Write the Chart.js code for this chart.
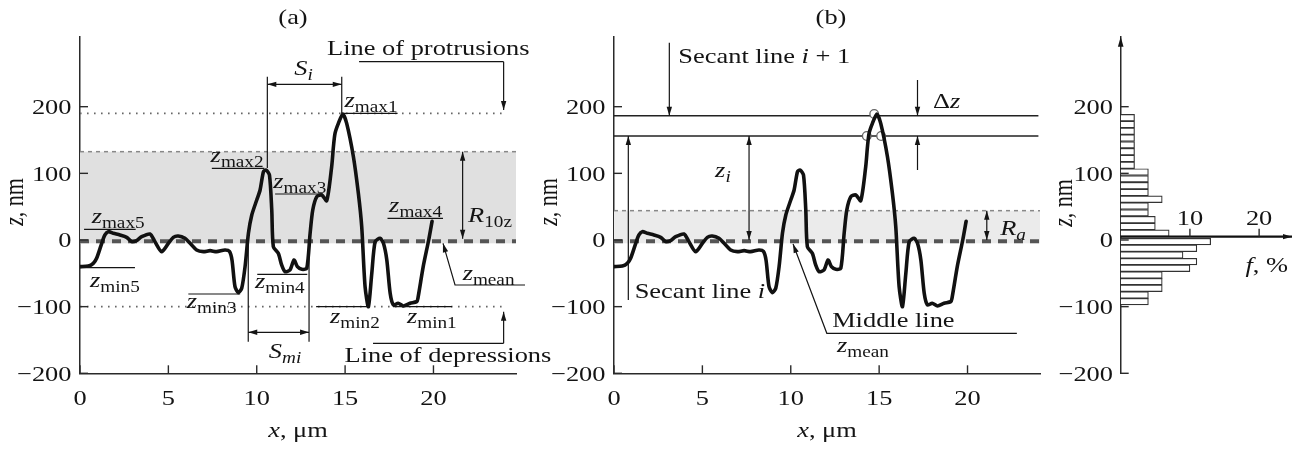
<!DOCTYPE html>
<html>
<head>
<meta charset="utf-8">
<script src="https://cdn.jsdelivr.net/npm/chart.js@4/dist/chart.umd.min.js"></script>
<style>
html, body { margin: 0; padding: 0; background: #fff; }
#wrap { position: relative; width: 1301px; height: 449px; }
#wrap canvas { position: absolute; left: 0; top: 0; }
</style>
</head>
<body>
<div id="wrap">
  <canvas id="chartA" width="1301" height="449"></canvas>
  <canvas id="chartB" width="1301" height="449"></canvas>
  <canvas id="chartC" width="1301" height="449"></canvas>
</div>
<script>
// surface profile z(x) (same trace in panels a and b)
const profileX = [0, 0.47, 0.75, 0.94, 1.23, 1.41, 1.6, 1.89, 2.26, 2.64, 2.92, 3.2, 3.49, 3.96, 4.24, 4.62, 5.0, 5.28, 5.56, 5.94,
  6.23, 6.6, 6.98, 7.36, 7.73, 8.2, 8.45, 8.6, 8.77, 8.96, 9.15, 9.34, 9.53, 9.72, 10.0, 10.19, 10.38, 10.53, 10.72, 10.85,
  10.94, 11.22, 11.41, 11.6, 11.88, 12.11, 12.3, 12.55, 12.83, 13.02, 13.17, 13.4, 13.68, 13.96, 14.24, 14.34, 14.43, 14.62, 14.87, 15.09,
  15.47, 15.75, 15.94, 16.13, 16.32, 16.51, 16.7, 16.98, 17.17, 17.36, 17.55, 17.73, 18.0, 18.3, 18.67, 19.05, 19.12, 19.42, 19.73, 19.92];
const profileZ = [-40, -39, -35, -27.5, -5, 7.5, 12.5, 10, 7.5, 4, -2.5, -1, 5, 9, -2.5, -17.5, -5, 4, 6, 2.5,
  -5, -15, -17.5, -16, -17.5, -15, -17, -30, -70, -79, -72.5, -40, 10, 37.5, 60, 75, 102.5, 105, 97.5, 45,
  -10, -20, -37.5, -47.5, -45, -30, -40, -44, -42.5, 10, 45, 65, 67.5, 59, 110, 140, 160, 175, 189, 175,
  125, 70, 20, -70, -100, -50, -2.5, 2.5, -5, -30, -80, -97.5, -95, -99, -95, -92.5, -87.5, -40, 0, 28];

// height histogram (panel c): bin centre z, nm and share f, %
const binZ = [183.5, 173.3, 163.1, 152.9, 142.7, 132.5, 122.3, 112.1, 101.9, 91.7, 81.5, 71.3, 61.1, 50.9, 40.7, 30.5, 20.3, 10.1,
  -2.5, -12.5, -22.5, -32.5, -42.5, -52.5, -62.5, -72.5, -82.5, -92.5];
const binF = [2, 2, 2, 2, 2, 2, 2, 2, 4, 4, 4, 4, 6, 4, 4, 5, 5, 7,
  13, 11, 9, 11, 10, 6, 6, 6, 4, 4];

// tick values
const zTicks = [-200, -100, 0, 100, 200];
const xTicks = [0, 5, 10, 15, 20];
const fTicks = [10, 20];

// characteristic levels, nm
const protrusionLevel = 190;
const depressionLevel = -100;
const meanLevel = -2;
const r10zTop = 132.5;
const raTop = 44;
const secantUpper = 186.5;
const secantLower = 156;
const fAxisLevel = 5;
// crossing points of the peak with the secant lines (panel b)
const crossX = [14.72, 14.3, 15.11];
const crossZ = [189, 156, 156];

// axis ranges
const Z_MIN = -200, Z_MAX = 305;
const A_XMAX = 24.67, B_XMAX = 24.1, F_MAX = 24.75;

// layout
const W = 1301, H = 449;
const frameA = { left: 80, right: 516, top: 36.7, bottom: 373.3 };
const frameB = { left: 614, right: 1040, top: 36.7, bottom: 373.3 };
const frameC = { left: 1120.7, right: 1292, top: 36.7, bottom: 373.3 };

const INK = '#141414';
const AXIS = '#2a2a2a';
const SERIF = '"Liberation Serif", "Times New Roman", serif';
const SX = 1.2;      // the scanned figure is stretched horizontally
const FS = 22, SUB = 16;

// ---------- text helpers ----------
function fontFor(style) {
  const sub = style[0] === 's';
  return (style.indexOf('i') >= 0 ? 'italic ' : '') + (sub ? SUB : FS) + 'px ' + SERIF;
}
function richWidth(ctx, parts) {
  let w = 0;
  parts.forEach(([t, s]) => { ctx.font = fontFor(s); w += ctx.measureText(t).width; });
  return w;
}
function drawRich(ctx, parts, x, y, align, sx) {
  sx = sx || SX;
  const w = richWidth(ctx, parts) * sx;
  let cx = align === 'center' ? x - w / 2 : align === 'right' ? x - w : x;
  ctx.save();
  ctx.fillStyle = INK;
  ctx.textAlign = 'left';
  ctx.textBaseline = 'alphabetic';
  parts.forEach(([t, s]) => {
    ctx.font = fontFor(s);
    const tw = ctx.measureText(t).width;
    ctx.save();
    ctx.translate(cx, y + (s[0] === 's' ? 5 : 0));
    ctx.scale(sx, 1);
    ctx.fillText(t, 0, 0);
    ctx.restore();
    cx += tw * sx;
  });
  ctx.restore();
}
function drawRotated(ctx, parts, cx, cy) {
  ctx.save();
  ctx.translate(cx, cy);
  ctx.rotate(-Math.PI / 2);
  ctx.scale(1, SX);
  drawRich(ctx, parts, 0, 5, 'center', 1);
  ctx.restore();
}
const fmt = v => (v < 0 ? '\u2212' + (-v) : String(v));

// ---------- drawing kit bound to a chart's scales ----------
function kit(chart) {
  const ctx = chart.ctx, sx = chart.scales.x, sy = chart.scales.y;
  const X = v => sx.getPixelForValue(v), Y = v => sy.getPixelForValue(v);
  function head(x1, y1, x2, y2) {
    const a = Math.atan2(y2 - y1, x2 - x1), L = 9, hw = 2.7;
    ctx.beginPath();
    ctx.moveTo(x2, y2);
    ctx.lineTo(x2 - L * Math.cos(a) + hw * Math.sin(a), y2 - L * Math.sin(a) - hw * Math.cos(a));
    ctx.lineTo(x2 - L * Math.cos(a) - hw * Math.sin(a), y2 - L * Math.sin(a) + hw * Math.cos(a));
    ctx.closePath();
    ctx.fill();
  }
  const k = {
    ctx, X, Y, area: chart.chartArea,
    line(x1, z1, x2, z2, w, color, dash) {
      ctx.save();
      ctx.strokeStyle = color || INK;
      ctx.lineWidth = w || 1.2;
      ctx.setLineDash(dash || []);
      ctx.beginPath();
      ctx.moveTo(X(x1), Y(z1));
      ctx.lineTo(X(x2), Y(z2));
      ctx.stroke();
      ctx.restore();
    },
    path(pts) {
      ctx.save();
      ctx.strokeStyle = INK; ctx.lineWidth = 1.2;
      ctx.beginPath();
      pts.forEach(([x, z], i) => (i ? ctx.lineTo(X(x), Y(z)) : ctx.moveTo(X(x), Y(z))));
      ctx.stroke();
      ctx.restore();
    },
    arrow(x1, z1, x2, z2, both) {
      k.line(x1, z1, x2, z2);
      ctx.save(); ctx.fillStyle = INK;
      head(X(x1), Y(z1), X(x2), Y(z2));
      if (both) head(X(x2), Y(z2), X(x1), Y(z1));
      ctx.restore();
    },
    headAt(x1, z1, x2, z2) {
      ctx.save(); ctx.fillStyle = INK; head(X(x1), Y(z1), X(x2), Y(z2)); ctx.restore();
    },
    band(x1, x2, z1, z2, color) {
      ctx.save(); ctx.fillStyle = color;
      ctx.fillRect(X(x1), Y(z2), X(x2) - X(x1), Y(z1) - Y(z2));
      ctx.restore();
    },
    text(parts, x, z, align) { drawRich(ctx, parts, X(x), Y(z), align || 'left'); },
    label(parts, x, z, ux1, ux2, uz) { k.text(parts, x, z); k.line(ux1, uz, ux2, uz); }
  };
  return k;
}

// inward ticks + labels for the profile panels
function profileAxes(k) {
  const { ctx, X, Y, area } = k;
  ctx.save();
  ctx.strokeStyle = AXIS; ctx.lineWidth = 1.4;
  zTicks.forEach(v => { ctx.beginPath(); ctx.moveTo(area.left, Y(v)); ctx.lineTo(area.left + 8, Y(v)); ctx.stroke(); });
  xTicks.forEach(v => { ctx.beginPath(); ctx.moveTo(X(v), area.bottom); ctx.lineTo(X(v), area.bottom - 8); ctx.stroke(); });
  ctx.restore();
  zTicks.forEach(v => drawRich(ctx, [[fmt(v), 'r']], area.left - 8.5, Y(v) + 7.5, 'right'));
  xTicks.forEach(v => drawRich(ctx, [[fmt(v), 'r']], X(v), area.bottom + 32, 'center'));
  drawRich(ctx, [['x', 'i'], [', \u03bcm', 'r']], (area.left + area.right) / 2, 437, 'center');
  drawRotated(ctx, [['z', 'i'], [', nm', 'r']], area.left - 63, 202);
}

function axisOpts(min, max, show) {
  return {
    type: 'linear', min, max, display: show !== false, offset: false,
    ticks: { display: false },
    grid: { drawOnChartArea: false, drawTicks: false, offset: false },
    border: { color: AXIS, width: 1.5 },
    afterFit(s) { if (s.isHorizontal()) s.height = 0; else s.width = 0; }
  };
}
function baseOptions(frame, xMax, showX) {
  return {
    responsive: false, animation: false, events: [],
    layout: { padding: { left: frame.left, right: W - frame.right, top: frame.top, bottom: H - frame.bottom } },
    plugins: { legend: { display: false }, tooltip: { enabled: false } },
    scales: { x: axisOpts(0, xMax, showX), y: axisOpts(Z_MIN, Z_MAX) }
  };
}
const profile = profileX.map((x, i) => ({ x, y: profileZ[i] }));
const profileSet = {
  data: profile, showLine: true, borderColor: '#111', borderWidth: 3.6, pointRadius: 0,
  tension: 0.25, borderCapStyle: 'round', borderJoinStyle: 'round'
};

// ---------- panel (a) ----------
const decorA = {
  id: 'decorA',
  beforeDatasetsDraw(chart) {
    const k = kit(chart);
    k.band(0, A_XMAX, -5, r10zTop, '#e0e0e0');
    k.line(0, r10zTop, A_XMAX, r10zTop, 1.5, '#888', [4, 4]);
    k.line(0, protrusionLevel, 23.97, protrusionLevel, 1.6, '#666', [1.6, 5.4]);
    k.line(0, depressionLevel, 23.97, depressionLevel, 1.6, '#666', [1.6, 5.4]);
    k.line(0, meanLevel, A_XMAX, meanLevel, 4, '#555', [9, 7]);
  },
  afterDraw(chart) {
    const k = kit(chart);
    profileAxes(k);
    drawRich(k.ctx, [['(a)', 'r']], (k.area.left + k.area.right) / 2 - 5, 24, 'center');
    // line of protrusions / depressions
    k.text([['Line of protrusions', 'r']], 13.98, 277.5);
    k.line(15.79, 267.5, 23.97, 267.5);
    k.arrow(23.97, 267.5, 23.97, 195);
    k.text([['Line of depressions', 'r']], 14.97, -182.5);
    k.line(16.58, -155, 23.97, -155);
    k.arrow(23.97, -155, 23.97, -107.5);
    // S_i
    k.line(10.6, 245, 10.6, 108);
    k.line(14.81, 245, 14.81, 190);
    k.arrow(10.6, 233.5, 14.81, 233.5, true);
    k.text([['S', 'i'], ['i', 'si']], 12.65, 247, 'center');
    // S_mi
    k.line(9.52, 0, 9.52, -152.5);
    k.line(12.96, 0, 12.96, -152.5);
    k.arrow(9.52, -138.5, 12.96, -138.5, true);
    k.text([['S', 'i'], ['mi', 'si']], 11.6, -177, 'center');
    // R10z
    k.arrow(21.65, r10zTop, 21.65, 2, true);
    k.text([['R', 'i'], ['10z', 'sr']], 21.96, 27);
    // z_mean
    k.text([['z', 'i'], ['mean', 'sr']], 21.65, -60);
    k.path([[20.54, -5], [21.22, -67.5], [25.18, -67.5]]);
    k.headAt(21.22, -67.5, 20.54, -5);
    // local maxima / minima
    k.label([['z', 'i'], ['max1', 'sr']], 14.97, 199.75, 14.81, 17.97, 190);
    k.label([['z', 'i'], ['max2', 'sr']], 7.39, 117.25, 7.46, 10.43, 107.5);
    k.label([['z', 'i'], ['max3', 'sr']], 10.94, 78.75, 11.04, 13.75, 69);
    k.label([['z', 'i'], ['max4', 'sr']], 17.49, 42.25, 17.4, 20.54, 32.5);
    k.label([['z', 'i'], ['max5', 'sr']], 0.66, 25.75, 0.23, 3.15, 16);
    k.label([['z', 'i'], ['min5', 'sr']], 0.57, -71, 0, 3.11, -41.5);
    k.label([['z', 'i'], ['min4', 'sr']], 9.9, -72.5, 10.03, 12.86, -51.5);
    k.label([['z', 'i'], ['min3', 'sr']], 6.04, -102, 6.13, 9.06, -81);
    k.label([['z', 'i'], ['min2', 'sr']], 14.15, -124.5, 13.36, 16.39, -100);
    k.label([['z', 'i'], ['min1', 'sr']], 18.5, -124.5, 17.71, 21.05, -100);
  }
};
new Chart(document.getElementById('chartA'), {
  type: 'scatter',
  data: { datasets: [Object.assign({}, profileSet)] },
  options: baseOptions(frameA, A_XMAX),
  plugins: [decorA]
});

// ---------- panel (b) ----------
const decorB = {
  id: 'decorB',
  beforeDatasetsDraw(chart) {
    const k = kit(chart);
    k.band(0, B_XMAX, -5, raTop, '#ebebeb');
    k.line(0, raTop, B_XMAX, raTop, 1.5, '#888', [4, 4]);
    k.line(0, meanLevel, B_XMAX, meanLevel, 4, '#555', [9, 7]);
    k.line(0, secantUpper, 24.01, secantUpper, 1.5, '#222');
    k.line(0, secantLower, 24.01, secantLower, 1.5, '#222');
  },
  afterDraw(chart) {
    const k = kit(chart);
    profileAxes(k);
    drawRich(k.ctx, [['(b)', 'r']], (k.area.left + k.area.right) / 2 + 4, 24, 'center');
    k.arrow(3.13, 296, 3.13, secantUpper);
    k.text([['Secant line ', 'r'], ['i', 'i'], [' + 1', 'r']], 3.64, 265);
    k.arrow(0.81, -90, 0.81, secantLower);
    k.text([['Secant line ', 'r'], ['i', 'i']], 1.17, -87);
    k.arrow(7.64, secantLower, 7.64, 0, true);
    k.text([['z', 'i'], ['i', 'si']], 5.72, 95);
    k.arrow(17.17, 240, 17.17, secantUpper);
    k.arrow(17.17, 105, 17.17, secantLower);
    k.text([['\u0394', 'r'], ['z', 'i']], 18.05, 197.5);
    k.arrow(21.09, raTop, 21.09, 0, true);
    k.text([['R', 'i'], ['a', 'si']], 21.85, 7.5);
    k.path([[10.13, -6], [12.04, -140], [22.79, -140]]);
    k.headAt(12.04, -140, 10.13, -6);
    k.text([['Middle line', 'r']], 12.34, -130);
    k.text([['z', 'i'], ['mean', 'sr']], 12.62, -167.5);
  }
};
new Chart(document.getElementById('chartB'), {
  type: 'scatter',
  data: {
    datasets: [
      Object.assign({}, profileSet),
      {
        data: crossX.map((x, i) => ({ x, y: crossZ[i] })),
        pointRadius: 4.3, pointBackgroundColor: '#fff', pointBorderColor: '#666', pointBorderWidth: 1.3
      }
    ]
  },
  options: baseOptions(frameB, B_XMAX),
  plugins: [decorB]
});

// ---------- panel (c): histogram ----------
const decorC = {
  id: 'decorC',
  afterDraw(chart) {
    const k = kit(chart);
    const { ctx, X, Y, area } = k;
    ctx.save();
    ctx.strokeStyle = AXIS; ctx.lineWidth = 1.4;
    zTicks.forEach(v => { ctx.beginPath(); ctx.moveTo(area.left, Y(v)); ctx.lineTo(area.left + 8, Y(v)); ctx.stroke(); });
    ctx.restore();
    zTicks.forEach(v => drawRich(ctx, [[fmt(v), 'r']], area.left - 7.7, Y(v) + 7.5, 'right'));
    // vertical axis arrow
    ctx.save(); ctx.fillStyle = INK;
    ctx.beginPath(); ctx.moveTo(area.left, area.top); ctx.lineTo(area.left - 2.8, area.top + 10); ctx.lineTo(area.left + 2.8, area.top + 10); ctx.closePath(); ctx.fill();
    ctx.restore();
    // f axis
    k.line(0, fAxisLevel, F_MAX, fAxisLevel, 2.2, '#111');
    k.headAt(0, fAxisLevel, F_MAX, fAxisLevel);
    ctx.save();
    ctx.strokeStyle = AXIS; ctx.lineWidth = 1.4;
    fTicks.forEach(v => { ctx.beginPath(); ctx.moveTo(X(v), Y(fAxisLevel)); ctx.lineTo(X(v), Y(fAxisLevel) - 8); ctx.stroke(); });
    ctx.restore();
    fTicks.forEach(v => drawRich(ctx, [[fmt(v), 'r']], X(v), Y(fAxisLevel) - 11.5, 'center'));
    drawRich(ctx, [['f', 'i'], [', %', 'r']], X(21.1), 272, 'center');
    drawRotated(ctx, [['z', 'i'], [', nm', 'r']], 1066, 203);
  }
};
const optC = baseOptions(frameC, F_MAX, false);
optC.indexAxis = 'y';
new Chart(document.getElementById('chartC'), {
  type: 'bar',
  data: {
    datasets: [{
      data: binZ.map((z, i) => ({ x: binF[i], y: z })),
      backgroundColor: '#fff', borderColor: '#333', borderWidth: 1.2,
      barPercentage: 1, categoryPercentage: 1
    }]
  },
  options: optC,
  plugins: [decorC]
});
</script>
</body>
</html>
